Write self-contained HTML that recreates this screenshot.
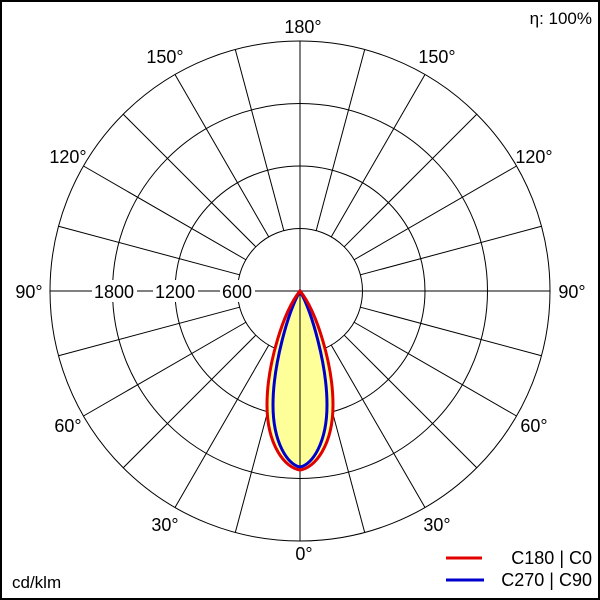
<!DOCTYPE html>
<html><head><style>body{margin:0;background:#fff}svg{display:block}</style></head><body>
<svg width="600" height="600" viewBox="0 0 600 600" font-family="Liberation Sans, sans-serif" font-size="18">
<rect x="1" y="1" width="598" height="598" fill="#fff" stroke="#000" stroke-width="2"/>
<g fill="none" stroke="#000" stroke-width="1">
<circle cx="300" cy="291" r="62.5"/><circle cx="300" cy="291" r="125"/><circle cx="300" cy="291" r="187.5"/><circle cx="300" cy="291" r="250"/>
<line x1="300" y1="41" x2="300" y2="541"/>
</g>
<g stroke="#000" stroke-width="1" id="spokes"></g>
<line x1="50" y1="291" x2="550" y2="291" stroke="#000"/>
<path d="M300,291 C283,312 267,365 267,405 C267,445 285,468 300,470 C315,468 333,445 333,405 C333,365 317,312 300,291 Z" fill="#ffff99"/>
<line x1="300" y1="291" x2="300" y2="470" stroke="#000"/>
<path d="M300,291 C288,312 273,365 273,405 C273,443 288,465 300,467 C312,465 327,443 327,405 C327,365 312,312 300,291 Z" fill="none" stroke="#0000cc" stroke-width="3"/>
<path d="M300,291 C283,312 267,365 267,405 C267,445 285,468 300,470 C315,468 333,445 333,405 C333,365 317,312 300,291 Z" fill="none" stroke="#e00000" stroke-width="3"/>
<g fill="#fff">
<rect x="10" y="280" width="39" height="22"/><rect x="92" y="280" width="45" height="22"/><rect x="153" y="280" width="45" height="22"/><rect x="220" y="280" width="35" height="22"/><rect x="553" y="280" width="38" height="22"/>
</g>
<g text-anchor="middle" fill="#000">
<text x="303" y="33">180°</text>
<text x="165" y="63">150°</text><text x="437" y="63">150°</text>
<text x="68" y="163">120°</text><text x="534" y="163">120°</text>
<text x="29" y="298">90°</text><text x="572" y="298">90°</text>
<text x="114" y="298">1800</text><text x="175" y="298">1200</text><text x="237" y="298">600</text>
<text x="68" y="432">60°</text><text x="534" y="432">60°</text>
<text x="165" y="531">30°</text><text x="437" y="531">30°</text>
<text x="304" y="560">0°</text>
</g>
<text x="592" y="24" text-anchor="end" font-size="17">η: 100%</text>
<text x="12" y="588" font-size="17">cd/klm</text>
<line x1="446" y1="558" x2="482" y2="558" stroke="#e00000" stroke-width="3"/>
<text x="592" y="564" text-anchor="end">C180 | C0</text>
<line x1="446" y1="580" x2="484" y2="580" stroke="#0000cc" stroke-width="3"/>
<text x="592" y="586" text-anchor="end">C270 | C90</text>
<script>
var g=document.getElementById('spokes');
for(var a=15;a<180;a+=15){if(a==90)continue;var t=a*Math.PI/180;
[1,-1].forEach(function(s){var dx=s*Math.sin(t),dy=Math.cos(t);
var l=document.createElementNS('http://www.w3.org/2000/svg','line');
l.setAttribute('x1',300+dx*62.5);l.setAttribute('y1',291+dy*62.5);
l.setAttribute('x2',300+dx*250);l.setAttribute('y2',291+dy*250);g.appendChild(l);});}
</script>
</svg>
</body></html>
